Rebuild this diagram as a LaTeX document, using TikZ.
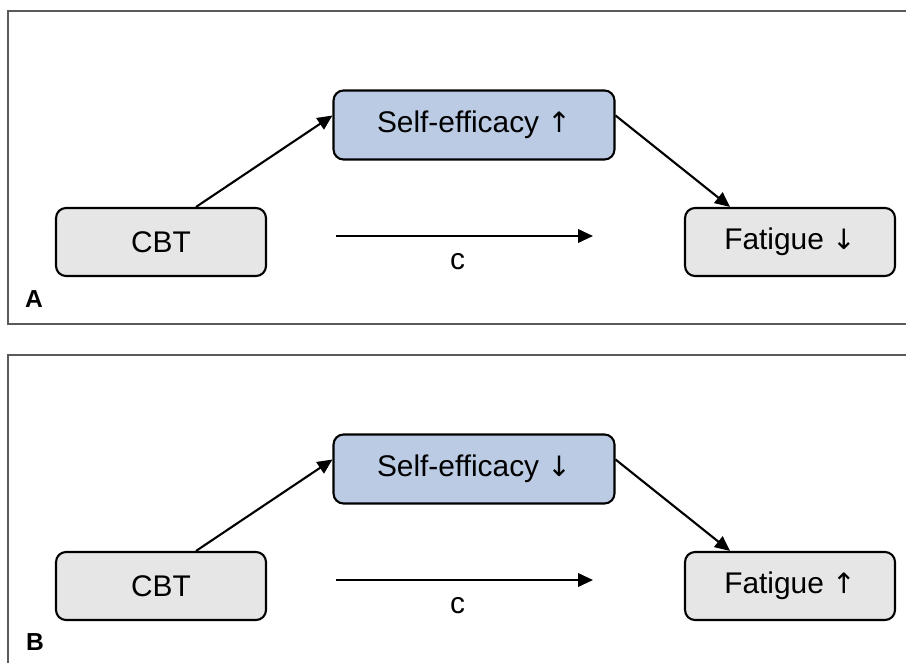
\documentclass[tikz,border=0pt]{standalone}
\usepackage{fontspec}
\setmainfont{Liberation Sans}
\newfontfamily\arrowfont{DejaVu Sans}
\usepackage{xcolor}
\usetikzlibrary{arrows.meta,positioning}

\definecolor{boxgray}{HTML}{E6E6E6}
\definecolor{boxblue}{HTML}{BACBE3}
\definecolor{framegray}{HTML}{5A5A5A}

\newcommand{\up}{{\arrowfont\fontsize{16}{20}\selectfont ↑}}
\newcommand{\down}{{\arrowfont\fontsize{16}{20}\selectfont ↓}}

\tikzset{
  varbox/.style={draw=black, line width=1.2pt, rounded corners=0.2cm, fill=boxgray,
    minimum width=4.2cm, minimum height=1.36cm, font=\fontsize{17}{20}\selectfont},
  medbox/.style={varbox, fill=boxblue, minimum width=5.62cm, minimum height=1.38cm},
  path/.style={line width=1.2pt, -{Triangle[length=0.3cm,width=0.27cm]}},
  frame/.style={draw=framegray, line width=0.6pt},
  panel/.style={font=\fontsize{14}{16}\selectfont\bfseries}
}

\begin{document}
\begin{tikzpicture}[x=0.02cm, y=-0.02cm]
\useasboundingbox (0,0) rectangle (906,663);

% Frames (open to the right)
\draw[frame] (906,11) -- (8,11) -- (8,324) -- (906,324);
\draw[frame] (906,355) -- (8,355) -- (8,663);

% Panel A
\node[varbox] (cbtA) at (161,242) {CBT};
\node[medbox] (seA) at (474,125) {Self-efficacy \up};
\node[varbox] (fatA) at (790,242) {Fatigue \down};
\coordinate (cStartA) at (336,236);
\coordinate (cEndA) at (593,236);

\draw[path] ([xshift=0.7cm]cbtA.north) -- ([yshift=0.19cm]seA.west);
\draw[path] ([yshift=0.19cm]seA.east) -- ([xshift=-1.2cm]fatA.north);
\draw[path] (cStartA) -- (cEndA)
    node[midway, below=0.22cm, xshift=-0.14cm, font=\fontsize{17}{20}\selectfont] (cA) {c};
\node[panel] (labA) at (34,299) {A};

% Panel B
\node[varbox] (cbtB) at (161,586) {CBT};
\node[medbox] (seB) at (474,469) {Self-efficacy \down};
\node[varbox] (fatB) at (790,586) {Fatigue \up};
\coordinate (cStartB) at (336,580);
\coordinate (cEndB) at (593,580);

\draw[path] ([xshift=0.7cm]cbtB.north) -- ([yshift=0.19cm]seB.west);
\draw[path] ([yshift=0.19cm]seB.east) -- ([xshift=-1.2cm]fatB.north);
\draw[path] (cStartB) -- (cEndB)
    node[midway, below=0.22cm, xshift=-0.14cm, font=\fontsize{17}{20}\selectfont] (cB) {c};
\node[panel] (labB) at (35,642) {B};
\end{tikzpicture}
\end{document}
